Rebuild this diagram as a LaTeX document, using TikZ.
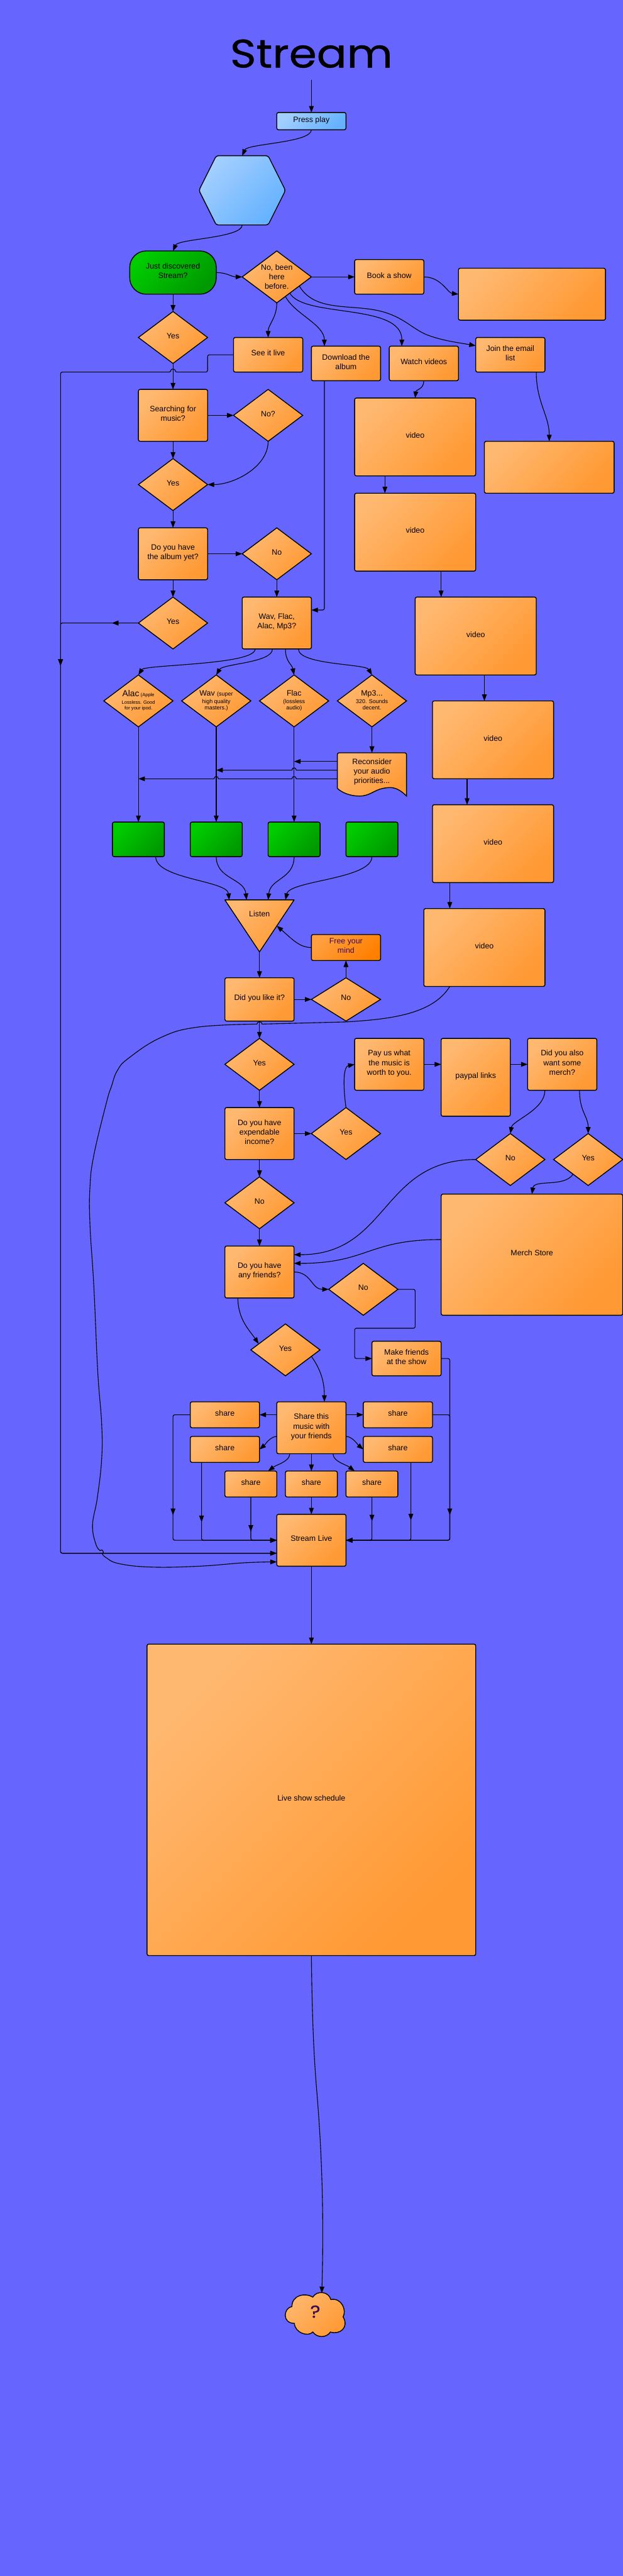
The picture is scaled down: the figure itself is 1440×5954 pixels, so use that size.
\documentclass[tikz,border=0pt]{standalone}
\usepackage{fontspec}
\setmainfont{Liberation Sans}
\newfontfamily\titlefont[FakeStretch=1.12,FakeBold=0.6]{Poppins}
\usetikzlibrary{arrows.meta,shapes.geometric,decorations.markings}
\definecolor{bgc}{HTML}{6666FF}
\definecolor{orL}{HTML}{FFB870}
\definecolor{orD}{HTML}{FF9933}
\definecolor{fmL}{HTML}{FF9F40}
\definecolor{fmD}{HTML}{FF8000}
\definecolor{blL}{HTML}{A3CFFF}
\definecolor{blD}{HTML}{66B2FF}
\definecolor{grL}{HTML}{00CC00}
\definecolor{grD}{HTML}{009900}
\definecolor{inkv}{HTML}{3A0A50}
\newcommand\zb[2][2pt]{\vbox to 0pt{\vss\hbox to 0pt{\hss\raisebox{\dimexpr#1-0.25em\relax}[0pt][0pt]{\begin{tabular}{@{}c@{}}#2\end{tabular}}\hss}\vss}}
\newcommand\zc[2]{\vbox to 0pt{\vss\hbox to 0pt{\hss\fontsize{13}{#1}\selectfont\raisebox{-0.25em}[0pt][0pt]{\begin{tabular}{@{}c@{}}#2\end{tabular}}\hss}\vss}}
\tikzset{
  >={Triangle[length=15pt,width=11pt]},
  base/.style={draw=black,line width=2pt,inner sep=0pt,outer sep=0pt,font=\fontsize{18}{22}\selectfont,text=black},
  orange/.style={top color=orL,bottom color=orD,shading angle=45},
  blue/.style={top color=blL,bottom color=blD,shading angle=45},
  green/.style={top color=grL,bottom color=grD,shading angle=45},
  box/.style={base,orange,rectangle,rounded corners=4pt},
  dia/.style={base,orange,diamond},
  gbox/.style={base,green,rectangle,rounded corners=4pt},
  ghost/.style={rectangle,inner sep=0pt,outer sep=0pt,font=\fontsize{18}{22}\selectfont,text=black},
  conn/.style={draw=black,line width=1.6pt,->},
  elbow/.style={rounded corners=4pt},
  midarrow/.style={postaction={decorate},decoration={markings,mark=at position #1 with {\arrow{>}}}},
  wh/.style n args={2}{minimum width=#1pt,minimum height=#2pt},
}
\begin{document}
\begin{tikzpicture}[x=1pt,y=-1pt]
\useasboundingbox (0,0) rectangle (1440,5954);
\fill[bgc] (0,0) rectangle (1440,5954);

% title
\node[inner sep=0pt,font=\titlefont\fontsize{92}{92}\selectfont] (title) at (720,124) {Stream};
\coordinate (startpt) at (720,185);

% shapes with a drawn outline
\draw[base,blue,rounded corners=5pt] (500,360) -- (620,360) -- (660,440) -- (620,520) -- (500,520) -- (460,440) -- cycle;
\node[ghost,wh={200}{160}] (hex) at (560,440) {};
\draw[base,orange,rounded corners=4pt] (780,1822) -- (780,1740) -- (940,1740) [sharp corners] -- (940,1840)
  .. controls (915,1815) and (900,1820) .. (886,1822)
  .. controls (865,1826) and (855,1840) .. (831,1840)
  .. controls (810,1840) and (790,1832) .. (780,1822) -- cycle;
\node[ghost,wh={160}{100}] (recon) at (860,1790) {\zb[6pt]{Reconsider\\your audio\\priorities...}};
\draw[base,orange,line join=round] (520,2080) -- (680,2080) -- (600,2200) -- cycle;
\node[ghost,wh={160}{120}] (listen) at (600,2140) {\zb[26pt]{Listen}};
\draw[base,orange] (675,5331) .. controls (655,5335) and (652,5370) .. (680.7,5370)
  .. controls (682,5392) and (712,5402) .. (723.3,5390)
  .. controls (733,5404) and (755,5404) .. (764,5390)
  .. controls (785,5397) and (808,5380) .. (793.3,5355)
  .. controls (802,5340) and (790,5310) .. (765,5315)
  .. controls (760,5296) and (733,5293) .. (723.3,5309.3)
  .. controls (705,5298) and (675,5305) .. (675,5331) -- cycle;
\node[ghost,wh={140}{100},text=inkv,font=\titlefont\fontsize{40}{40}\selectfont] (cloud) at (729,5350) {\zb[5pt]{?}};

% nodes
\node[base,blue,rectangle,rounded corners=4pt,wh={160}{40}] (press) at (720,280) {\zb{Press play}};
\node[base,green,rectangle,rounded corners=38pt,wh={200}{100}] (just) at (400,630) {\zb{Just discovered\\Stream?}};
\node[dia,wh={160}{120}] (been) at (640,640) {\zb[-2pt]{No, been\\here\\before.}};
\node[box,wh={160}{80}] (book) at (900,640) {\zb{Book a show}};
\node[box,wh={340}{120}] (bigbox) at (1230,680) {};
\node[dia,wh={160}{120}] (yes1) at (400,780) {\zb{Yes}};
\node[box,wh={160}{80}] (see) at (620,820) {\zb{See it live}};
\node[box,wh={160}{80}] (down) at (800,840) {\zb{Download the\\album}};
\node[box,wh={160}{80}] (watch) at (980,840) {\zb{Watch videos}};
\node[box,wh={160}{80}] (join) at (1180,820) {\zb{Join the email\\list}};
\node[box,wh={160}{120}] (search) at (400,960) {\zb{Searching for\\music?}};
\node[dia,wh={160}{120}] (noq) at (620,960) {\zb{No?}};
\node[dia,wh={160}{120}] (yes2) at (400,1120) {\zb{Yes}};
\node[box,wh={160}{120}] (album) at (400,1280) {\zb{Do you have\\the album yet?}};
\node[dia,wh={160}{120}] (no1) at (640,1280) {\zb{No}};
\node[dia,wh={160}{120}] (yes3) at (400,1440) {\zb{Yes}};
\node[box,wh={160}{120}] (wfam) at (640,1440) {\zb{Wav, Flac,\\Alac, Mp3?}};
\node[box,wh={280}{180}] (v1) at (960,1010) {\zb{video}};
\node[box,wh={280}{180}] (v2) at (960,1230) {\zb{video}};
\node[box,wh={300}{120}] (blank) at (1270,1080) {};
\node[box,wh={280}{180}] (v3) at (1100,1470) {\zb{video}};
\node[box,wh={280}{180}] (v4) at (1140,1710) {\zb{video}};
\node[box,wh={280}{180}] (v5) at (1140,1950) {\zb{video}};
\node[box,wh={280}{180}] (v6) at (1120,2190) {\zb{video}};
\node[dia,wh={160}{120}] (alac) at (320,1620) {\zc{13}{\fontsize{20}{22}\selectfont Alac\,\fontsize{11}{13}\selectfont(Apple\\[4pt]\fontsize{11}{13}\selectfont Lossless. Good\\\fontsize{11}{13}\selectfont for your ipod.}};
\node[dia,wh={160}{120}] (wavd) at (500,1620) {\zc{15}{\fontsize{18}{20}\selectfont Wav \fontsize{13}{15}\selectfont(super\\[3pt]high quality\\masters.)}};
\node[dia,wh={160}{120}] (flac) at (680,1620) {\zc{15}{\fontsize{18}{20}\selectfont Flac\\[3pt](lossless\\audio)}};
\node[dia,wh={160}{120}] (mp3) at (860,1620) {\zc{15}{\fontsize{18}{20}\selectfont Mp3...\\[3pt]320. Sounds\\decent.}};
\node[gbox,wh={120}{80}] (g1) at (320,1940) {};
\node[gbox,wh={120}{80}] (g2) at (500,1940) {};
\node[gbox,wh={120}{80}] (g3) at (680,1940) {};
\node[gbox,wh={120}{80}] (g4) at (860,1940) {};
\node[base,top color=fmL,bottom color=fmD,shading angle=45,rectangle,rounded corners=4pt,wh={160}{60},text=inkv] (free) at (800,2190) {\zb{Free your\\mind}};
\node[box,wh={160}{100}] (like) at (600,2310) {\zb{Did you like it?}};
\node[dia,wh={160}{100}] (no2) at (800,2310) {\zb{No}};
\node[dia,wh={160}{120}] (yes4) at (600,2460) {\zb{Yes}};
\node[box,wh={160}{120}] (pay) at (900,2460) {\zb{Pay us what\\the music is\\worth to you.}};
\node[box,wh={160}{180}] (paypal) at (1100,2490) {\zb{paypal links}};
\node[box,wh={160}{120}] (also) at (1300,2460) {\zb{Did you also\\want some\\merch?}};
\node[box,wh={160}{120}] (expend) at (600,2620) {\zb{Do you have\\expendable\\income?}};
\node[dia,wh={160}{120}] (yes5) at (800,2620) {\zb{Yes}};
\node[dia,wh={160}{120}] (no3) at (1180,2680) {\zb{No}};
\node[dia,wh={160}{120}] (yes6) at (1360,2680) {\zb{Yes}};
\node[box,wh={420}{280}] (merch) at (1230,2900) {\zb{Merch Store}};
\node[dia,wh={160}{120}] (no4) at (600,2780) {\zb{No}};
\node[box,wh={160}{120}] (friends) at (600,2940) {\zb{Do you have\\any friends?}};
\node[dia,wh={160}{120}] (no5) at (840,2980) {\zb{No}};
\node[dia,wh={160}{120}] (yes7) at (660,3120) {\zb{Yes}};
\node[box,wh={160}{80}] (make) at (940,3140) {\zb{Make friends\\at the show}};
\node[box,wh={160}{120}] (this) at (720,3300) {\zb{Share this\\music with\\your friends}};
\node[box,wh={160}{60}] (st1) at (520,3270) {\zb{share}};
\node[box,wh={160}{60}] (st2) at (520,3350) {\zb{share}};
\node[box,wh={160}{60}] (sr1) at (920,3270) {\zb{share}};
\node[box,wh={160}{60}] (sr2) at (920,3350) {\zb{share}};
\node[box,wh={120}{60}] (sb1) at (580,3430) {\zb{share}};
\node[box,wh={120}{60}] (sb2) at (720,3430) {\zb{share}};
\node[box,wh={120}{60}] (sb3) at (860,3430) {\zb{share}};
\node[box,wh={160}{120}] (stream) at (720,3560) {\zb{Stream Live}};
\node[box,wh={760}{720}] (live) at (720,4160) {\zb{Live show schedule}};

% named free ends for the long hand-traced connector
\coordinate (v6out) at ([xshift=-80pt]v6.south);
\coordinate (streamin) at ([yshift=-50pt]stream.west);

% connectors: top
\draw[conn] (startpt) -- (press.north);
\draw[conn] (press.south) .. controls (720,330) and (572,332) .. (hex.north);
\draw[conn] (hex.south) .. controls (560,550) and (412,552) .. (just.north);
\draw[conn] (just.east) .. controls +(25,0) and +(-25,0) .. (been.west);
\draw[conn] (been.east) -- (book.west);
\draw[conn] (book.east) .. controls +(40,0) and +(-25,-3) .. (bigbox.west);
\draw[conn] (just.south) -- (yes1.north);
\draw[conn] (been.south) .. controls +(0,35) and +(0,-30) .. (see.north);
\draw[conn] ([xshift=20pt,yshift=-45pt]been.center) .. controls (680,725) and (750,750) .. ([xshift=-50pt]down.north);
\draw[conn] ([xshift=30pt,yshift=-37pt]been.center) .. controls (700,735) and (930,700) .. ([xshift=-51pt]watch.north);
\draw[conn] ([xshift=52pt,yshift=-21pt]been.center) .. controls (730,725) and (820,700) .. (890,722)
  .. controls (935,736) and (955,760) .. (985,773) .. controls (1020,787) and (1060,792) .. ([yshift=21pt]join.west);
\draw[conn,elbow] (see.west) -- (480,820) -- (480,860) -- (405,860)
  .. controls (405,852) and (395,852) .. (395,860) -- (140,860) -- (140,3590) -- ([yshift=-30pt]stream.west);
\draw[conn] (yes1.south) -- (search.north);
\draw[conn] (search.east) -- (noq.west);
\draw[conn] (search.south) -- (yes2.north);
\draw[conn] (noq.south) .. controls (620,1080) and (540,1120) .. (yes2.east);
\draw[conn] (yes2.south) -- (album.north);
\draw[conn] (album.east) -- (no1.west);
\draw[conn] (album.south) -- (yes3.north);
\draw[conn] (no1.south) -- (wfam.north);
\draw[conn,elbow,midarrow=61pt,midarrow=277pt] (yes3.west) -- (140,1440) -- (140,3590) -- ([yshift=-30pt]stream.west);
\draw[conn,elbow] ([xshift=-50pt]down.south) |- ([yshift=30pt]wfam.east);
\draw[conn] (watch.south) .. controls (980,900) and (962,900) .. (v1.north);
\draw[conn] ([xshift=60pt]join.south) .. controls +(0,70) and +(0,-60) .. (blank.north);
\draw[conn] ([xshift=-70pt]v1.south) -- ([xshift=-70pt]v2.north);
\draw[conn] ([xshift=60pt]v2.south) -- ([xshift=-80pt]v3.north);
\draw[conn] ([xshift=20pt]v3.south) -- ([xshift=-20pt]v4.north);
\draw[conn] ([xshift=-60pt]v4.south) -- ([xshift=-60pt]v5.north);
\draw[conn] ([xshift=-100pt]v5.south) -- ([xshift=-80pt]v6.north);

% audio choices
\draw[conn] ([xshift=-50pt]wfam.south) .. controls (590,1537) and (335,1536) .. (alac.north);
\draw[conn] ([xshift=-10pt]wfam.south) .. controls (630,1532) and (515,1534) .. (wavd.north);
\draw[conn] ([xshift=20pt]wfam.south) .. controls (660,1530) and (675,1535) .. (flac.north);
\draw[conn] ([xshift=50pt]wfam.south) .. controls (690,1537) and (845,1534) .. (mp3.north);
\draw[conn] (alac.south) -- (g1.north);
\draw[conn] (wavd.south) -- (g2.north);
\draw[conn] (flac.south) -- (g3.north);
\draw[conn] (mp3.south) -- (recon.north);
\draw[conn] ([yshift=30pt]recon.west) -- ([yshift=30pt]recon.west -| flac.south);
\draw[conn] ([yshift=10pt]recon.west) -- (685,1780) .. controls (685,1773) and (675,1773) .. (675,1780) -- ([yshift=10pt]recon.west -| wavd.south);
\draw[conn] ([yshift=-10pt]recon.west) -- (685,1800) .. controls (685,1793) and (675,1793) .. (675,1800) -- (505,1800) .. controls (505,1793) and (495,1793) .. (495,1800) -- ([yshift=-10pt]recon.west -| alac.south);
\draw[conn] ([xshift=40pt]g1.south) .. controls (360,2032) and (525,2035) .. ([xshift=-70pt]listen.north);
\draw[conn] (g2.south) .. controls (500,2032) and (565,2030) .. ([xshift=-30pt]listen.north);
\draw[conn] (g3.south) .. controls (680,2032) and (625,2030) .. ([xshift=20pt]listen.north);
\draw[conn] (g4.south) .. controls (860,2032) and (670,2035) .. ([xshift=60pt]listen.north);
\draw[conn] (listen.south) -- (like.north);
\draw[conn] (like.east) -- (no2.west);
\draw[conn] (no2.north) -- (free.south);
\draw[conn] (free.west) .. controls (692,2190) and (675,2170) .. ([xshift=40pt]listen.center);
\draw[conn] (like.south) -- (yes4.north);
\draw[conn] (yes4.south) -- (expend.north);
\draw[conn] (expend.east) -- (yes5.west);
\draw[conn] (yes5.north) .. controls (792,2500) and (795,2465) .. (pay.west);
\draw[conn] (pay.east) -- ([yshift=30pt]paypal.west);
\draw[conn] ([yshift=30pt]paypal.east) -- (also.west);
\draw[conn] ([xshift=-40pt]also.south) .. controls +(0,45) and +(5,-30) .. (no3.north);
\draw[conn] ([xshift=40pt]also.south) .. controls +(0,50) and +(0,-40) .. (yes6.north);
\draw[conn] ([xshift=-35pt,yshift=-34pt]yes6.center) .. controls (1305,2745) and (1235,2725) .. (merch.north);
\draw[conn] (no3.west) .. controls +(-220,0) and +(220,0) .. ([yshift=40pt]friends.east);
\draw[conn] ([yshift=35pt]merch.west) .. controls +(-170,0) and +(170,0) .. ([yshift=20pt]friends.east);
\draw[conn] (expend.south) -- (no4.north);
\draw[conn] (no4.south) -- (friends.north);
\draw[conn] (friends.east) .. controls +(40,0) and +(-40,0) .. (no5.west);
\draw[conn] ([xshift=-50pt]friends.south) .. controls +(0,50) and +(-20,-30) .. ([xshift=-62pt,yshift=14pt]yes7.center);
\draw[conn,elbow] (no5.east) -- (960,2980) -- (960,3070) -- (820,3070) -- (820,3140) -- (make.west);
\draw[conn,elbow] (make.east) -- (1040,3140) -- (1040,3560) -- (stream.east);
\draw[conn] ([xshift=60pt,yshift=-15pt]yes7.center) .. controls (745,3170) and (750,3200) .. ([xshift=30pt]this.north);

% sharing block
\draw[conn] ([yshift=30pt]this.west) -- (st1.east);
\draw[conn] ([yshift=30pt]this.east) -- (sr1.west);
\draw[conn] ([yshift=-20pt]this.west) .. controls (625,3320) and (612,3340) .. (st2.east);
\draw[conn] ([yshift=-20pt]this.east) .. controls (815,3320) and (828,3340) .. (sr2.west);
\draw[conn] ([xshift=-50pt]this.south) .. controls (670,3378) and (640,3385) .. ([xshift=40pt]sb1.north);
\draw[conn] (this.south) -- (sb2.north);
\draw[conn] ([xshift=50pt]this.south) .. controls (770,3378) and (800,3385) .. ([xshift=-40pt]sb3.north);
\draw[conn,elbow,midarrow=270pt] (st1.west) -- (400,3270) -- (400,3560) -- (stream.west);
\draw[conn,elbow,midarrow=138pt] ([xshift=-54pt]st2.south) |- (stream.west);
\draw[conn,elbow,midarrow=80pt] (sb1.south) |- (stream.west);
\draw[conn] (sb2.south) -- (stream.north);
\draw[conn,elbow,midarrow=56pt] (sb3.south) |- (stream.east);
\draw[conn,elbow,midarrow=134pt] ([xshift=30pt]sr2.south) |- (stream.east);
\draw[conn,elbow,midarrow=270pt] (sr1.east) -- (1040,3270) -- (1040,3560) -- (stream.east);
\draw[conn] (stream.south) -- (live.north);
\draw[conn] (live.south) .. controls (722,4700) and (728,4780) .. (733,4840)
  .. controls (742,4950) and (750,5100) .. ([xshift=15pt]cloud.north);

% long connector from the last video to Stream Live
\draw[conn] (v6out) .. controls (1000,2345) and (900,2356) .. (799,2362) -- (606,2367)
  .. controls (606,2360) and (594,2360) .. (594,2367)
  -- plot[smooth,tension=.7] coordinates {(594,2367) (457,2374) (372,2398) (297,2446) (271,2475) (258,2510) (246,2549) (217,2670) (208,2744) (208,2830) (217,2974) (226,3170) (235,3290) (235,3373) (225,3462) (214,3525) (222,3570) (232,3584)}
  .. controls (236,3578) and (242,3588) .. (237,3592)
  -- plot[smooth,tension=.7] coordinates {(237,3592) (245,3600) (275,3614) (350,3622) (460,3620) (566,3612) (streamin)};
\end{tikzpicture}
\end{document}
